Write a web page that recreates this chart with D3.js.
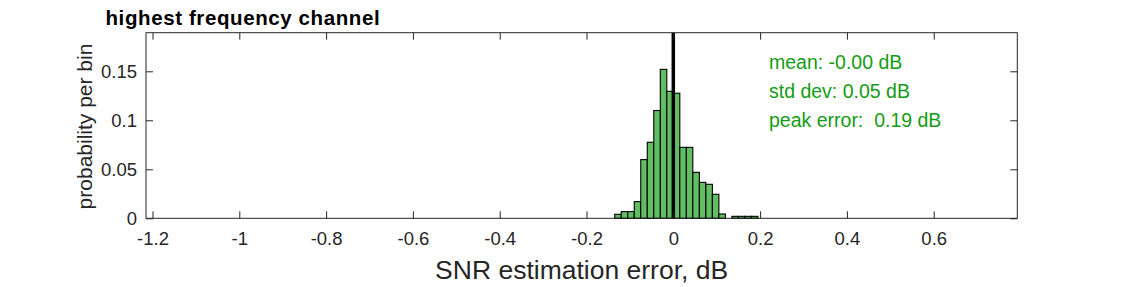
<!DOCTYPE html>
<html><head><meta charset="utf-8">
<script src="https://cdn.jsdelivr.net/npm/d3@7"></script>
<style>html,body{margin:0;padding:0;background:#fff;}svg{display:block;}</style>
</head><body>
<script>
// ---- data ----
const binStart = -0.135;
const binWidth = 0.015;
const binValues = [0.0041, 0.0068, 0.0068, 0.017, 0.0599, 0.0776, 0.110, 0.152, 0.1296, 0.1276,
  0.0724, 0.0724, 0.0469, 0.0367, 0.0347, 0.0245, 0.0044, 0, 0.002, 0.002, 0.002, 0.002];
const xTicks = [-1.2, -1, -0.8, -0.6, -0.4, -0.2, 0, 0.2, 0.4, 0.6];
const xTickLabels = ["-1.2", "-1", "-0.8", "-0.6", "-0.4", "-0.2", "0", "0.2", "0.4", "0.6"];
const yTicks = [0, 0.05, 0.1, 0.15];
const yTickLabels = ["0", "0.05", "0.1", "0.15"];
const xDomain = [-1.215, 0.7926];
const yDomain = [0, 0.1894];
const meanLine = 0;
const statLines = ["mean: -0.00 dB", "std dev: 0.05 dB", "peak error:  0.19 dB"];
const titleText = "highest frequency channel";
const xLabel = "SNR estimation error, dB";
const yLabel = "probability per bin";

const bins = binValues.map((v, i) => ({x0: binStart + i * binWidth, x1: binStart + (i + 1) * binWidth, v}));

// ---- layout ----
const W = 1125, H = 287;
const L = 146, R = 1017.3, T = 32.7, B = 218.3;
const axisColor = "#262626";
const font = "'Liberation Sans', Arial, Helvetica, sans-serif";

const svg = d3.select("body").append("svg").attr("width", W).attr("height", H)
  .style("font-family", font);

const x = d3.scaleLinear().domain(xDomain).range([L, R]);
const y = d3.scaleLinear().domain(yDomain).range([B, T]);

// bars
svg.append("g").selectAll("rect").data(bins.filter(d => d.v > 0)).join("rect")
  .attr("x", d => x(d.x0)).attr("width", d => x(d.x1) - x(d.x0))
  .attr("y", d => y(d.v)).attr("height", d => y(0) - y(d.v))
  .attr("fill", "#62be62").attr("stroke", "#000").attr("stroke-width", 1.1);

// mean line
svg.append("line").attr("x1", x(meanLine)).attr("x2", x(meanLine))
  .attr("y1", y(yDomain[1])).attr("y2", y(0))
  .attr("stroke", "#000").attr("stroke-width", 3.5);

// axes
const tickLen = 7;
const gxB = svg.append("g").attr("transform", `translate(0,${B})`)
  .call(d3.axisBottom(x).tickValues(xTicks).tickSizeInner(-tickLen).tickSizeOuter(0)
    .tickPadding(14).tickFormat((d, i) => xTickLabels[i]));
const gxT = svg.append("g").attr("transform", `translate(0,${T})`)
  .call(d3.axisTop(x).tickValues(xTicks).tickSizeInner(-tickLen).tickSizeOuter(0).tickFormat(""));
const gyL = svg.append("g").attr("transform", `translate(${L},0)`)
  .call(d3.axisLeft(y).tickValues(yTicks).tickSizeInner(-tickLen).tickSizeOuter(0)
    .tickPadding(9).tickFormat((d, i) => yTickLabels[i]));
const gyR = svg.append("g").attr("transform", `translate(${R},0)`)
  .call(d3.axisRight(y).tickValues(yTicks).tickSizeInner(-tickLen).tickSizeOuter(0).tickFormat(""));

[gxB, gxT, gyL, gyR].forEach(g => {
  g.select(".domain").remove();
  g.selectAll(".tick line").attr("stroke", axisColor).attr("stroke-width", 1);
  g.selectAll(".tick text").attr("fill", axisColor).style("font-size", "18.5px").style("font-family", font);
});

// box
svg.append("rect").attr("x", L).attr("y", T).attr("width", R - L).attr("height", B - T)
  .attr("fill", "none").attr("stroke", axisColor).attr("stroke-width", 1);

// stats text
svg.append("g").selectAll("text").data(statLines).join("text")
  .attr("x", 769).attr("y", (d, i) => 68.5 + i * 29)
  .attr("fill", "#149c14").style("font-size", "19.5px").style("white-space", "pre")
  .attr("xml:space", "preserve")
  .text(d => d);

// title
svg.append("text").attr("x", 105.5).attr("y", 25)
  .attr("fill", "#000").style("font-size", "20.5px").style("font-weight", "bold")
  .style("letter-spacing", "0.6px")
  .text(titleText);

// x label
svg.append("text").attr("x", (L + R) / 2).attr("y", 279).attr("text-anchor", "middle")
  .attr("fill", axisColor).style("font-size", "26.5px").text(xLabel);

// y label
svg.append("text").attr("transform", `translate(92,${(T + B) / 2 + 1}) rotate(-90)`)
  .attr("text-anchor", "middle")
  .attr("fill", axisColor).style("font-size", "21px").text(yLabel);
</script>
</body></html>
